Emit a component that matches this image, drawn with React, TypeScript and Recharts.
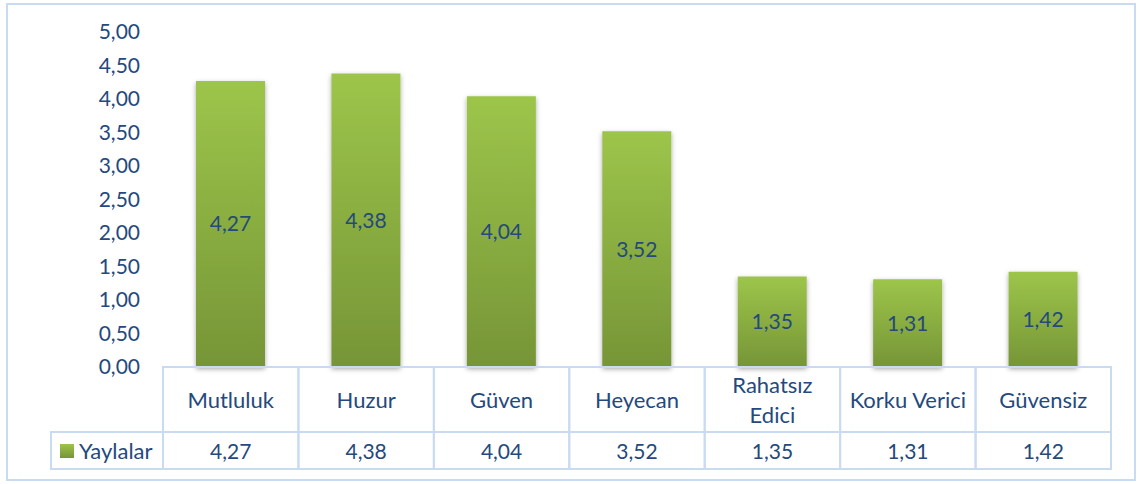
import React from 'react';
import { BarChart, Bar, XAxis, YAxis, LabelList } from 'recharts';

const categories = ['Mutluluk', 'Huzur', 'Güven', 'Heyecan', 'Rahatsız Edici', 'Korku Verici', 'Güvensiz'];
const categoryLines: string[][] = [['Mutluluk'], ['Huzur'], ['Güven'], ['Heyecan'], ['Rahatsız', 'Edici'], ['Korku Verici'], ['Güvensiz']];
const yaylalar = [4.27, 4.38, 4.04, 3.52, 1.35, 1.31, 1.42];
const yTicks = [0, 0.5, 1, 1.5, 2, 2.5, 3, 3.5, 4, 4.5, 5];
const seriesName = 'Yaylalar';

const data = categories.map((c, i) => ({ name: c, value: yaylalar[i], lines: categoryLines[i] }));

const W = 1146;
const H = 484;
const MARGIN = { top: 32, right: 35, bottom: 0, left: 103 };
const Y_AXIS_W = 60;
const X_AXIS_H = 117;
const PLOT_W = W - MARGIN.left - Y_AXIS_W - MARGIN.right;
const BAND = PLOT_W / categories.length;
const ROW1_H = 65;
const ROW2_H = 37;
const LEGEND_W = 112;
const FONT = 'Lato, "Open Sans", sans-serif';
const TEXT = '#24497D';
const BORDER = '#C9DBF1';
const FS = 21;
const FS_WORD = 22;

const fmt = (v: number) => v.toFixed(2).replace('.', ',');

const TableTick = (props: any) => {
  const { x, y, payload, index } = props;
  const d = data[index];
  const left = x - BAND / 2;
  const lines: string[] = d.lines;
  const lh = 30;
  const startY = y + ROW1_H / 2 - ((lines.length - 1) * lh) / 2;
  return (
    <g>
      <rect x={left} y={y} width={BAND} height={ROW1_H + ROW2_H} fill="none" stroke={BORDER} strokeWidth={2} />
      <line x1={left} x2={left + BAND} y1={y + ROW1_H} y2={y + ROW1_H} stroke={BORDER} strokeWidth={2} />
      {lines.map((ln, i) => (
        <text key={i} x={x} y={startY + i * lh} textAnchor="middle" dominantBaseline="central" fill={TEXT} fontSize={FS_WORD} fontFamily={FONT}>
          {ln}
        </text>
      ))}
      <text x={x} y={y + ROW1_H + ROW2_H / 2} textAnchor="middle" dominantBaseline="central" fill={TEXT} fontSize={FS} fontFamily={FONT}>
        {fmt(d.value)}
      </text>
      {index === 0 && (
        <g>
          <rect x={left - LEGEND_W} y={y + ROW1_H} width={LEGEND_W} height={ROW2_H} fill="none" stroke={BORDER} strokeWidth={2} />
          <rect x={left - LEGEND_W + 9} y={y + ROW1_H + 12} width={14} height={14} fill="url(#barGrad)" />
          <text x={left - LEGEND_W + 28} y={y + ROW1_H + ROW2_H / 2} textAnchor="start" dominantBaseline="central" fill={TEXT} fontSize={FS_WORD} fontFamily={FONT}>
            {seriesName}
          </text>
        </g>
      )}
      <title>{payload.value}</title>
    </g>
  );
};

export default function App() {
  return (
    <div style={{ position: 'absolute', left: 0, top: 0, width: W, height: H, background: '#fff' }}>
      <div style={{ position: 'absolute', left: 6, top: 3, width: 1130, height: 478, border: `2px solid ${BORDER}`, boxSizing: 'border-box' }} />
      <BarChart width={W} height={H} data={data} margin={MARGIN} style={{ position: 'absolute', left: 0, top: 0 }}>
        <defs>
          <linearGradient id="barGrad" x1="0" y1="0" x2="0" y2="1">
            <stop offset="0%" stopColor="#9DC54A" />
            <stop offset="100%" stopColor="#769537" />
          </linearGradient>
          <filter id="barShadow" x="-20%" y="-10%" width="140%" height="120%">
            <feDropShadow dx="0" dy="2" stdDeviation="2.5" floodColor="#000" floodOpacity="0.35" />
          </filter>
        </defs>
        <XAxis
          dataKey="name"
          interval={0}
          axisLine={false}
          tickLine={false}
          tickSize={0}
          tickMargin={0}
          height={X_AXIS_H}
          tick={<TableTick />}
        />
        <YAxis
          domain={[0, 5]}
          ticks={yTicks}
          width={Y_AXIS_W}
          axisLine={false}
          tickLine={false}
          tickSize={0}
          tickMargin={23}
          tickFormatter={fmt}
          tick={{ fill: TEXT, fontSize: FS, fontFamily: FONT }}
        />
        <Bar dataKey="value" fill="url(#barGrad)" barSize={69} isAnimationActive={false} filter="url(#barShadow)">
          <LabelList dataKey="value" position="center" formatter={(v: any) => fmt(Number(v))} fill={TEXT} fontSize={FS} fontFamily={FONT} />
        </Bar>
      </BarChart>
    </div>
  );
}
